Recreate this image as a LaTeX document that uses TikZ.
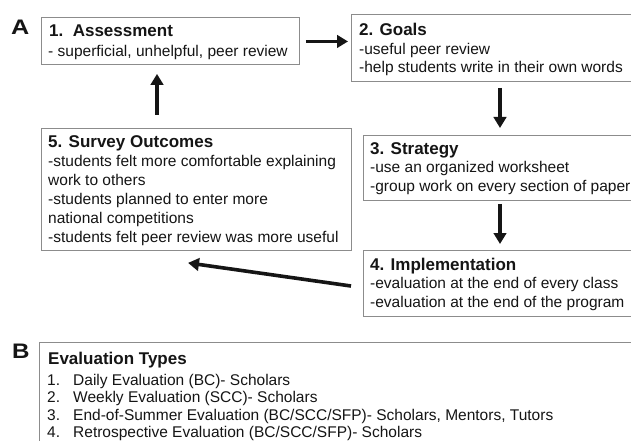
\documentclass[tikz,border=0pt]{standalone}
\usepackage{fontspec}
\usepackage{graphicx}
\setmainfont{Liberation Sans}
\usetikzlibrary{arrows.meta,calc}
\definecolor{boxgray}{HTML}{8C8C8C}
\definecolor{ink}{HTML}{151515}
\begin{document}
\begin{tikzpicture}[x=1pt,y=-1pt,
  box/.style={draw=boxgray, line width=0.9pt, anchor=north west, inner sep=0pt},
  ttl/.style={anchor=base west, inner sep=0pt, text=ink, font=\fontsize{17}{19}\selectfont\bfseries},
  body/.style={anchor=base west, inner sep=0pt, text=ink, font=\fontsize{15.5}{19}\selectfont},
  panel/.style={anchor=base west, inner sep=0pt, text=ink, font=\fontsize{21}{24}\selectfont\bfseries},
  btitle/.style={anchor=base west, inner sep=0pt, text=ink, font=\fontsize{17}{19}\selectfont\bfseries},
  bitem/.style={anchor=base west, inner sep=0pt, text=ink, font=\fontsize{15.5}{17}\selectfont},
  arr/.style={draw=ink, line width=3.6pt, -{Triangle[length=11pt,width=12.5pt]}}]
\useasboundingbox[fill=white] (0,0) rectangle (631,441);

% panel A boxes
\node[box, minimum width=258pt, minimum height=47pt] (b1) at (41,17) {};
\node[box, minimum width=279.5pt, minimum height=67pt] (b2) at (351,14) {};
\node[box, minimum width=290pt, minimum height=65pt] (b3) at (363,135) {};
\node[box, minimum width=267.5pt, minimum height=66pt] (b4) at (363,250) {};
\node[box, minimum width=310pt, minimum height=122pt] (b5) at (41,128) {};

\node[panel] (lA) at (11,35) {\scalebox{1.2}[1]{A}};

% texts
\node[ttl]  (b1t)  at (49,37) {1.\ \ Assessment};
\node[body] (b1a)  at (48,57) {- superficial, unhelpful, peer review};

\node[ttl]  (b2t)  at (359,36) {2. Goals};
\node[body] (b2a)  at (359,54.5) {-useful peer review};
\node[body] (b2b)  at (359,73) {-help students write in their own words};

\node[ttl]  (b3t)  at (370,154) {3. Strategy};
\node[body] (b3a)  at (370,172.5) {-use an organized worksheet};
\node[body] (b3b)  at (370,191) {-group work on every section of paper};

\node[ttl]  (b4t)  at (370,270) {4. Implementation};
\node[body] (b4a)  at (370,288.5) {-evaluation at the end of every class};
\node[body] (b4b)  at (370,307) {-evaluation at the end of the program};

\node[ttl]  (b5t)  at (48,147) {5. Survey Outcomes};
\node[body] (b5a)  at (48,166) {-students felt more comfortable explaining};
\node[body] (b5b)  at (48,185) {work to others};
\node[body] (b5c)  at (48,204) {-students planned to enter more};
\node[body] (b5d)  at (48,223) {national competitions};
\node[body] (b5e)  at (48,242) {-students felt peer review was more useful};

% arrows
\draw[arr] ($(b1.east)+(6,0.5)$) -- ($(b2.west |- b1.east)+(-3,0.5)$);
\draw[arr] ($(b2.south west)+(149,6)$) -- ($(b3.north west)+(137,-7)$);
\draw[arr] ($(b3.south west)+(137,3)$) -- ($(b4.north west)+(137,-6)$);
\draw[arr] ($(b4.north west)+(-12,36)$) -- ($(b5.south west)+(147,12)$);
\draw[arr] ($(b5.north west)+(116,-13)$) -- ($(b1.south west)+(116,9)$);

% panel B
\node[panel] (lB) at (12,358.5) {\scalebox{1.15}[1]{B}};
\draw[draw=boxgray, line width=0.9pt] (650,342) -- (39,342) -- (39,460);
\node[btitle] (bt) at (48,364) {Evaluation Types};
\node[bitem] (n1) at (47,385) {1.};
\node[bitem] (i1) at (73,385) {Daily Evaluation (BC)- Scholars};
\node[bitem] (n2) at (47,402.5) {2.};
\node[bitem] (i2) at (73,402.5) {Weekly Evaluation (SCC)- Scholars};
\node[bitem] (n3) at (47,420) {3.};
\node[bitem] (i3) at (73,420) {End-of-Summer Evaluation (BC/SCC/SFP)- Scholars, Mentors, Tutors};
\node[bitem] (n4) at (47,437.5) {4.};
\node[bitem] (i4) at (73,437.5) {Retrospective Evaluation (BC/SCC/SFP)- Scholars};
\end{tikzpicture}
\end{document}
